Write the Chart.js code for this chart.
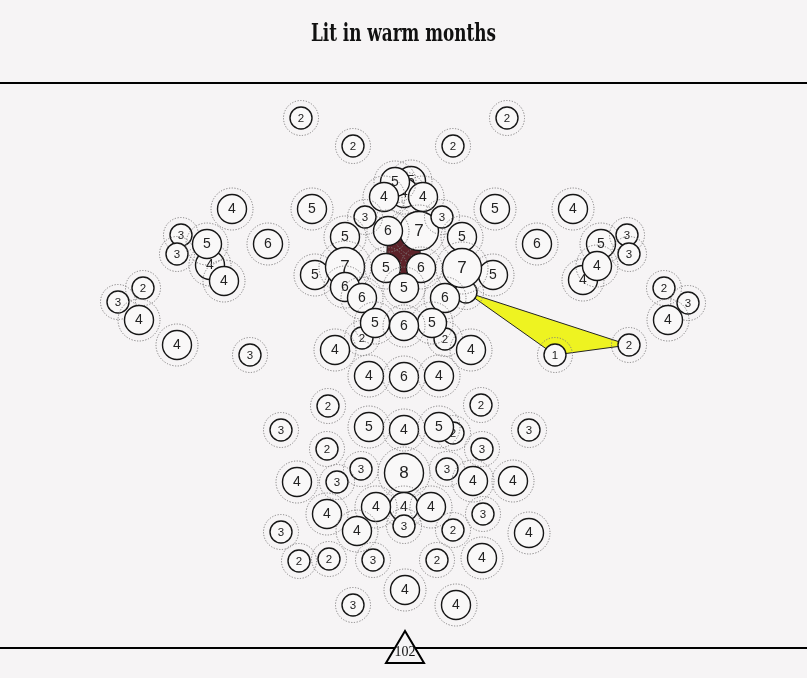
<!DOCTYPE html>
<html>
<head>
<meta charset="utf-8">
<script src="https://cdn.jsdelivr.net/npm/chart.js@4/dist/chart.umd.min.js"></script>
<style>
  html, body { margin: 0; padding: 0; background: #f6f4f5; }
  #wrap { width: 807px; height: 678px; }
</style>
</head>
<body>
<div id="wrap"><canvas id="c" width="807" height="678"></canvas></div>
<script>
// ---- data ----
const titleText = "Lit in warm months";
const footerLabel = "102";

const bubbleX = [
  301, 507, 353, 453, 232, 312, 495, 573, 268, 537,
  181, 177, 210, 207, 224, 143, 118, 139, 177, 250,
  583, 601, 627, 629, 597, 664, 688, 668, 555, 629,
  411, 404, 423, 395, 384, 419, 388, 365, 442, 345,
  462, 315, 345, 345, 362, 466, 493, 462, 445, 386,
  421, 404, 362, 445, 375, 432, 404, 335, 471, 369,
  404, 439, 328, 481, 281, 369, 404, 453, 439, 529,
  327, 482, 361, 404, 447, 297, 337, 473, 513, 327,
  404, 376, 431, 483, 404, 281, 357, 453, 529, 299,
  329, 373, 437, 482, 405, 353, 456
];
const bubbleY = [
  118, 118, 146, 146, 209, 209, 209, 209, 244, 244,
  235, 254, 265, 244, 281, 288, 302, 320, 345, 355,
  280, 244, 235, 254, 266, 288, 303, 320, 355, 345,
  181, 193, 197, 182, 197, 231, 231, 217, 217, 237,
  237, 275, 267, 287, 298, 292, 275, 268, 298, 268,
  268, 288, 338, 339, 323, 323, 326, 350, 350, 376,
  377, 376, 406, 405, 430, 427, 430, 433, 427, 430,
  449, 449, 469, 473, 469, 482, 482, 481, 481, 514,
  507, 507, 507, 514, 526, 532, 531, 530, 533, 561,
  559, 560, 560, 558, 590, 605, 605
];
// null = bubble whose label is not shown (hidden under its neighbours)
const bubbleValue = [
  2, 2, 2, 2, 4, 5, 5, 4, 6, 6,
  3, 3, 4, 5, 4, 2, 3, 4, 4, 3,
  4, 5, 3, 3, 4, 2, 3, 4, 1, 2,
  5, 4, 4, 5, 4, 7, 6, 3, 3, 5,
  5, 5, 7, 6, 6, null, 5, 7, 6, 5,
  6, 5, 2, 2, 5, 5, 6, 4, 4, 4,
  6, 4, 2, 2, 3, 5, 4, 2, 5, 3,
  2, 3, 3, 8, 3, 4, 3, 4, 4, 4,
  4, 4, 4, 3, 3, 3, 4, 2, 4, 2,
  2, 3, 2, 4, 4, 3, 4
];
// polygons joining bubble centres (indices into the bubble arrays)
const darkGroup = [36, 35, 50, 51, 49];
const yellowGroup = [45, 28, 29];

// ---- styling helpers ----
const BG = '#f6f4f5';
function radiusFor(v) { return (v == null || v <= 3) ? 11 : (v <= 6 ? 14.5 : 19.5); }
function fontFor(v) { return v <= 3 ? 11.5 : (v <= 6 ? 14 : 17); }

const points = bubbleX.map((x, i) => ({ x: x, y: bubbleY[i], v: bubbleValue[i] }));

class RingBubbleController extends Chart.BubbleController {
  draw() {
    const chart = this.chart;
    const ctx = chart.ctx;
    const area = chart.chartArea;
    const meta = this._cachedMeta;
    const data = this.getDataset().data;
    meta.data.forEach((el, i) => {
      const r = el.options.radius;
      ctx.save();
      ctx.beginPath();
      ctx.setLineDash([1.2, 1.6]);
      ctx.lineWidth = 1;
      ctx.strokeStyle = '#7e7c7d';
      ctx.arc(el.x, el.y, r + 6.5, 0, Math.PI * 2);
      ctx.stroke();
      ctx.restore();
      el.draw(ctx, area);
      if (data[i].v != null) {
        ctx.save();
        ctx.fillStyle = '#222';
        ctx.font = fontFor(data[i].v) + 'px "Liberation Sans", Arial, sans-serif';
        ctx.textAlign = 'center';
        ctx.textBaseline = 'middle';
        ctx.fillText(String(data[i].v), el.x, el.y + 0.5);
        ctx.restore();
      }
    });
  }
}
RingBubbleController.id = 'ringBubble';
RingBubbleController.defaults = Chart.BubbleController.defaults;
RingBubbleController.overrides = Chart.BubbleController.overrides;
Chart.register(RingBubbleController);

const decorPlugin = {
  id: 'decor',
  beforeDatasetsDraw(chart) {
    const ctx = chart.ctx;
    const els = chart.getDatasetMeta(0).data;
    function poly(group, fill) {
      ctx.save();
      ctx.beginPath();
      group.forEach((idx, k) => {
        const e = els[idx];
        if (k === 0) ctx.moveTo(e.x, e.y); else ctx.lineTo(e.x, e.y);
      });
      ctx.closePath();
      ctx.fillStyle = fill;
      ctx.fill();
      ctx.lineWidth = 1;
      ctx.strokeStyle = '#222';
      ctx.stroke();
      ctx.restore();
    }
    poly(yellowGroup, '#eef321');
    poly(darkGroup, '#5c2229');
  },
  afterDraw(chart) {
    const ctx = chart.ctx;
    const W = chart.width;
    ctx.save();
    // title
    ctx.fillStyle = '#111';
    ctx.font = 'bold 24px "DejaVu Serif", serif';
    const w = ctx.measureText(titleText).width;
    const s = 185 / w;
    ctx.translate(W / 2, 41);
    ctx.scale(s, 1);
    ctx.textAlign = 'center';
    ctx.textBaseline = 'alphabetic';
    ctx.fillText(titleText, 0, 0);
    ctx.restore();

    ctx.save();
    ctx.strokeStyle = '#000';
    ctx.lineWidth = 2;
    ctx.beginPath();
    ctx.moveTo(0, 83); ctx.lineTo(W, 83);
    ctx.moveTo(0, 648); ctx.lineTo(W, 648);
    ctx.stroke();
    // triangle marker
    ctx.beginPath();
    ctx.moveTo(405, 631);
    ctx.lineTo(386, 663);
    ctx.lineTo(424, 663);
    ctx.closePath();
    ctx.fillStyle = BG;
    ctx.fill();
    ctx.lineWidth = 2;
    ctx.lineJoin = 'miter';
    ctx.stroke();
    ctx.fillStyle = '#111';
    ctx.font = '14px "Liberation Serif", "Times New Roman", serif';
    ctx.textAlign = 'center';
    ctx.textBaseline = 'middle';
    ctx.fillText(footerLabel, 405, 652);
    ctx.restore();
  }
};

new Chart(document.getElementById('c'), {
  type: 'ringBubble',
  data: {
    datasets: [{
      data: points,
      backgroundColor: '#f9f8f8',
      borderColor: '#161616',
      borderWidth: 1.4,
      radius: (ctx) => radiusFor(ctx.raw ? ctx.raw.v : 4),
      hoverRadius: 0,
      clip: false
    }]
  },
  options: {
    responsive: false,
    devicePixelRatio: 1,
    animation: false,
    layout: { padding: 0, autoPadding: false },
    events: [],
    scales: {
      x: { type: 'linear', display: false, min: 0, max: 807 },
      y: { type: 'linear', display: false, min: 0, max: 678, reverse: true }
    },
    plugins: {
      legend: { display: false },
      tooltip: { enabled: false },
      title: { display: false }
    }
  },
  plugins: [decorPlugin]
});
</script>
</body>
</html>
